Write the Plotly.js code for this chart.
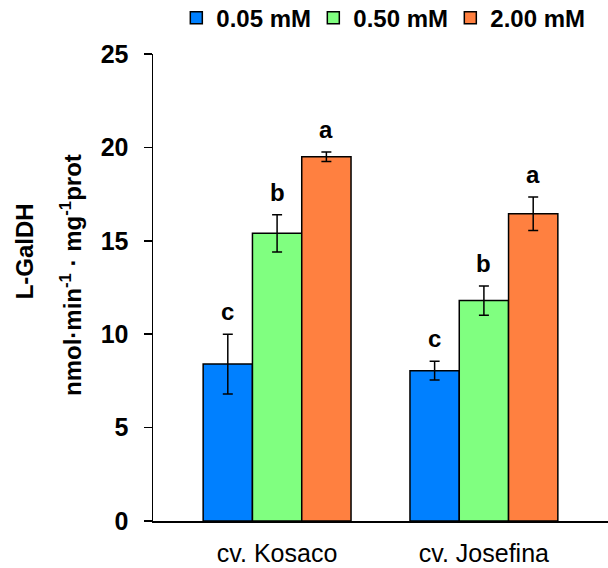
<!DOCTYPE html>
<html><head><meta charset="utf-8">
<script src="https://cdn.plot.ly/plotly-3.0.1.min.js"></script>
<style>body{margin:0;background:#fff}#c{width:608px;height:568px}</style>
</head><body><div id="c"></div>
<script>
const cultivars = ["cv. Kosaco", "cv. Josefina"];
const seriesNames = ["0.05 mM", "0.50 mM", "2.00 mM"];
const means0 = [8.4, 8.05];
const means1 = [15.4, 11.8];
const means2 = [19.5, 16.45];
const err0 = [1.6, 0.5];
const err1 = [1.0, 0.78];
const err2 = [0.25, 0.9];
const letters0 = ["c", "c"];
const letters1 = ["b", "b"];
const letters2 = ["a", "a"];
const colors = ["#0080FF", "#80FF80", "#FF8040"];
const yTicks = [0, 5, 10, 15, 20, 25];
const yTitle1 = "L-GalDH";
const yTitle2 = "nmol·min<sup>-1</sup> · mg<sup>-1</sup>prot";

const means = [means0, means1, means2];
const errs = [err0, err1, err2];
const letters = [letters0, letters1, letters2];
const xs = cultivars.map((_, i) => i);
const bargap = 0.285;
const bw = (1 - bargap) / 3;
const F = "Arial, Liberation Sans, sans-serif";

const traces = means.map((m, j) => ({
  type: "bar", x: xs, y: m, name: seriesNames[j],
  marker: {color: colors[j], line: {color: "#000", width: 1.5}},
  error_y: {type: "data", array: errs[j], visible: true, color: "#000", thickness: 1.5, width: 5}
}));

const annotations = [];
means.forEach((m, j) => m.forEach((v, i) => {
  annotations.push({
    x: xs[i] + (j - 1) * bw, y: v + errs[j][i], xref: "x", yref: "y",
    text: "<b>" + letters[j][i] + "</b>", showarrow: false,
    yanchor: "bottom", yshift: 7,
    font: {family: F, size: 24, color: "#000"}
  });
}));
// y-axis title lines
annotations.push({
  xref: "paper", yref: "paper", x: -0.283, y: 0.578, xanchor: "center", yanchor: "middle",
  text: "<b>" + yTitle1 + "</b>", textangle: -90, showarrow: false,
  font: {family: F, size: 24, color: "#000"}
});
annotations.push({
  xref: "paper", yref: "paper", x: -0.18, y: 0.527, xanchor: "center", yanchor: "middle",
  text: "<b>" + yTitle2 + "</b>", textangle: -90, showarrow: false,
  font: {family: F, size: 24, color: "#000"}
});

const layout = {
  width: 608, height: 568,
  margin: {l: 153, r: 0, t: 54, b: 47},
  paper_bgcolor: "#fff", plot_bgcolor: "#fff",
  barmode: "group", bargap: bargap, bargroupgap: 0,
  font: {family: F, color: "#000"},
  showlegend: true,
  legend: {orientation: "h", xref: "container", x: 0.29, xanchor: "left", yref: "container", y: 0.968, yanchor: "middle",
    font: {size: 24, family: F, weight: "bold"},
    itemwidth: 30, traceorder: "normal", entrywidth: 92, entrywidthmode: "pixels"},
  xaxis: {range: [-0.6, 1.6], tickvals: xs, ticktext: cultivars, showline: true,
    linecolor: "#000", linewidth: 1.5, ticks: "", showgrid: false, zeroline: false,
    tickfont: {size: 25}, ticklabelstandoff: 9, fixedrange: true},
  yaxis: {range: [0, 25], tickvals: yTicks, showline: true, linecolor: "#000", linewidth: 1.5,
    ticks: "outside", ticklen: 8, tickwidth: 1.5, tickcolor: "#000", showgrid: false,
    zeroline: false, tickfont: {size: 25, weight: "bold"}, ticklabelstandoff: 10},
  annotations: annotations
};
Plotly.newPlot("c", traces, layout, {staticPlot: true, displayModeBar: false});
</script></body></html>
